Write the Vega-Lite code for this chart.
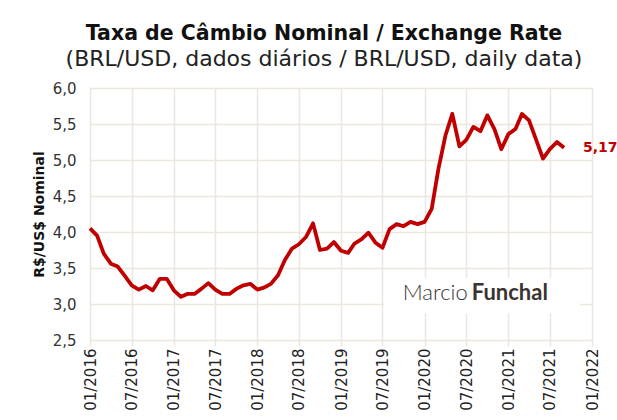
{
  "$schema": "https://vega.github.io/schema/vega-lite/v6.json",
  "width": 502,
  "height": 252,
  "autosize": {"type": "none"},
  "padding": {"left": 90, "top": 88, "right": 25, "bottom": 80},
  "background": "white",
  "title": {
    "text": "Taxa de Câmbio Nominal / Exchange Rate",
    "subtitle": "(BRL/USD, dados diários / BRL/USD, daily data)",
    "font": "DejaVu Sans",
    "fontSize": 20.5,
    "fontWeight": "bold",
    "color": "#111111",
    "subtitleFont": "DejaVu Sans",
    "subtitleFontSize": 22,
    "subtitleColor": "#222222",
    "subtitlePadding": 5,
    "anchor": "middle",
    "offset": 11,
    "dx": -17
  },
  "config": {
    "locale": {"number": {"decimal": ",", "thousands": ".", "grouping": [3], "currency": ["R$", ""]}},
    "view": {"stroke": null},
    "axisY": {
      "labelOverlap": false,
      "labelFlush": false,
      "labelFont": "DejaVu Sans",
      "labelFontSize": 15,
      "labelColor": "#333333",
      "labelPadding": 14,
      "ticks": false,
      "domain": false,
      "grid": true,
      "gridColor": "#ebe7dc",
      "gridWidth": 1.5
    },
    "axisX": {
      "labelOverlap": false,
      "labelFlush": false,
      "labelAngle": 270,
      "labelAlign": "right",
      "labelBaseline": "middle",
      "labelFont": "DejaVu Sans",
      "labelFontSize": 15,
      "labelColor": "#222222",
      "labelPadding": 2,
      "grid": true,
      "gridColor": "#ebe7dc",
      "gridWidth": 1.5,
      "tickColor": "#ebe7dc",
      "tickWidth": 1.5,
      "tickSize": 6,
      "domain": false
    }
  },
  "datasets": {
    "fx": [
      {"date": "2016-01-01", "v": 4.05}, {"date": "2016-02-01", "v": 3.95}, {"date": "2016-03-01", "v": 3.70},
      {"date": "2016-04-01", "v": 3.56}, {"date": "2016-05-01", "v": 3.52}, {"date": "2016-06-01", "v": 3.39},
      {"date": "2016-07-01", "v": 3.26}, {"date": "2016-08-01", "v": 3.20}, {"date": "2016-09-01", "v": 3.25},
      {"date": "2016-10-01", "v": 3.19}, {"date": "2016-11-01", "v": 3.35}, {"date": "2016-12-01", "v": 3.35},
      {"date": "2017-01-01", "v": 3.19}, {"date": "2017-02-01", "v": 3.10}, {"date": "2017-03-01", "v": 3.14},
      {"date": "2017-04-01", "v": 3.14}, {"date": "2017-05-01", "v": 3.21}, {"date": "2017-06-01", "v": 3.29},
      {"date": "2017-07-01", "v": 3.20}, {"date": "2017-08-01", "v": 3.14}, {"date": "2017-09-01", "v": 3.14},
      {"date": "2017-10-01", "v": 3.21}, {"date": "2017-11-01", "v": 3.26}, {"date": "2017-12-01", "v": 3.28},
      {"date": "2018-01-01", "v": 3.20}, {"date": "2018-02-01", "v": 3.23}, {"date": "2018-03-01", "v": 3.28},
      {"date": "2018-04-01", "v": 3.40}, {"date": "2018-05-01", "v": 3.61}, {"date": "2018-06-01", "v": 3.77},
      {"date": "2018-07-01", "v": 3.83}, {"date": "2018-08-01", "v": 3.93}, {"date": "2018-09-01", "v": 4.12},
      {"date": "2018-10-01", "v": 3.75}, {"date": "2018-11-01", "v": 3.77}, {"date": "2018-12-01", "v": 3.86},
      {"date": "2019-01-01", "v": 3.74}, {"date": "2019-02-01", "v": 3.71}, {"date": "2019-03-01", "v": 3.84},
      {"date": "2019-04-01", "v": 3.90}, {"date": "2019-05-01", "v": 3.99}, {"date": "2019-06-01", "v": 3.85},
      {"date": "2019-07-01", "v": 3.78}, {"date": "2019-08-01", "v": 4.04}, {"date": "2019-09-01", "v": 4.11},
      {"date": "2019-10-01", "v": 4.08}, {"date": "2019-11-01", "v": 4.14}, {"date": "2019-12-01", "v": 4.11},
      {"date": "2020-01-01", "v": 4.14}, {"date": "2020-02-01", "v": 4.32}, {"date": "2020-03-01", "v": 4.87},
      {"date": "2020-04-01", "v": 5.34}, {"date": "2020-05-01", "v": 5.64}, {"date": "2020-06-01", "v": 5.19},
      {"date": "2020-07-01", "v": 5.28}, {"date": "2020-08-01", "v": 5.46}, {"date": "2020-09-01", "v": 5.40},
      {"date": "2020-10-01", "v": 5.62}, {"date": "2020-11-01", "v": 5.43}, {"date": "2020-12-01", "v": 5.15},
      {"date": "2021-01-01", "v": 5.36}, {"date": "2021-02-01", "v": 5.43}, {"date": "2021-03-01", "v": 5.64},
      {"date": "2021-04-01", "v": 5.55}, {"date": "2021-05-01", "v": 5.29}, {"date": "2021-06-01", "v": 5.02},
      {"date": "2021-07-01", "v": 5.15}, {"date": "2021-08-01", "v": 5.25}, {"date": "2021-09-01", "v": 5.17}
    ],
    "brand": [{"a": "Marcio", "b": "Funchal"}]
  },
  "layer": [
    {
      "data": {"name": "fx"},
      "mark": {"type": "line", "color": "#c00000", "strokeWidth": 3.8, "strokeJoin": "round"},
      "encoding": {
        "x": {
          "field": "date",
          "type": "temporal",
          "scale": {"type": "utc", "domain": [{"year": 2016, "month": 1, "date": 1, "utc": true}, {"year": 2022, "month": 1, "date": 1, "utc": true}]},
          "axis": {
            "values": [
              {"year": 2016, "month": 1, "date": 1, "utc": true}, {"year": 2016, "month": 7, "date": 1, "utc": true},
              {"year": 2017, "month": 1, "date": 1, "utc": true}, {"year": 2017, "month": 7, "date": 1, "utc": true},
              {"year": 2018, "month": 1, "date": 1, "utc": true}, {"year": 2018, "month": 7, "date": 1, "utc": true},
              {"year": 2019, "month": 1, "date": 1, "utc": true}, {"year": 2019, "month": 7, "date": 1, "utc": true},
              {"year": 2020, "month": 1, "date": 1, "utc": true}, {"year": 2020, "month": 7, "date": 1, "utc": true},
              {"year": 2021, "month": 1, "date": 1, "utc": true}, {"year": 2021, "month": 7, "date": 1, "utc": true},
              {"year": 2022, "month": 1, "date": 1, "utc": true}
            ],
            "tickCount": 20,
            "format": "%m/%Y",
            "labelOverlap": false,
            "title": null
          }
        },
        "y": {
          "field": "v",
          "type": "quantitative",
          "scale": {"domain": [2.5, 6]},
          "axis": {
            "values": [2.5, 3, 3.5, 4, 4.5, 5, 5.5, 6],
            "tickCount": 20,
            "format": ".1f",
            "labelOverlap": false,
            "title": "R$/US$ Nominal",
            "titleFont": "DejaVu Sans",
            "titleFontSize": 14,
            "titleFontWeight": "bold",
            "titleColor": "#111111",
            "titlePadding": 6
          }
        }
      }
    },
    {
      "data": {"name": "fx"},
      "transform": [{"filter": "utcyear(datum.date) == 2021 && utcmonth(datum.date) == 8"}],
      "mark": {"type": "text", "align": "left", "baseline": "middle", "dx": 19, "font": "DejaVu Sans", "fontSize": 14, "fontWeight": "bold", "color": "#c00000"},
      "encoding": {
        "x": {"field": "date", "type": "temporal"},
        "y": {"field": "v", "type": "quantitative"},
        "text": {"field": "v", "type": "quantitative", "format": ".2f"}
      }
    },
    {
      "data": {"name": "brand"},
      "mark": {"type": "rect", "color": "white"},
      "encoding": {
        "x": {"datum": {"year": 2019, "month": 7, "date": 10, "utc": true}},
        "x2": {"datum": {"year": 2021, "month": 11, "date": 10, "utc": true}},
        "y": {"datum": 3.36},
        "y2": {"datum": 2.87}
      }
    },
    {
      "data": {"name": "brand"},
      "mark": {"type": "text", "align": "right", "baseline": "middle", "font": "Lato", "fontSize": 22, "fontWeight": 300, "color": "#3b3330", "dx": -2},
      "encoding": {
        "x": {"datum": {"year": 2020, "month": 7, "date": 16, "utc": true}},
        "y": {"datum": 3.15},
        "text": {"field": "a"}
      }
    },
    {
      "data": {"name": "brand"},
      "mark": {"type": "text", "align": "left", "baseline": "middle", "font": "Lato", "fontSize": 22, "fontWeight": "bold", "color": "#3b3330", "dx": 2},
      "encoding": {
        "x": {"datum": {"year": 2020, "month": 7, "date": 16, "utc": true}},
        "y": {"datum": 3.15},
        "text": {"field": "b"}
      }
    }
  ]
}
